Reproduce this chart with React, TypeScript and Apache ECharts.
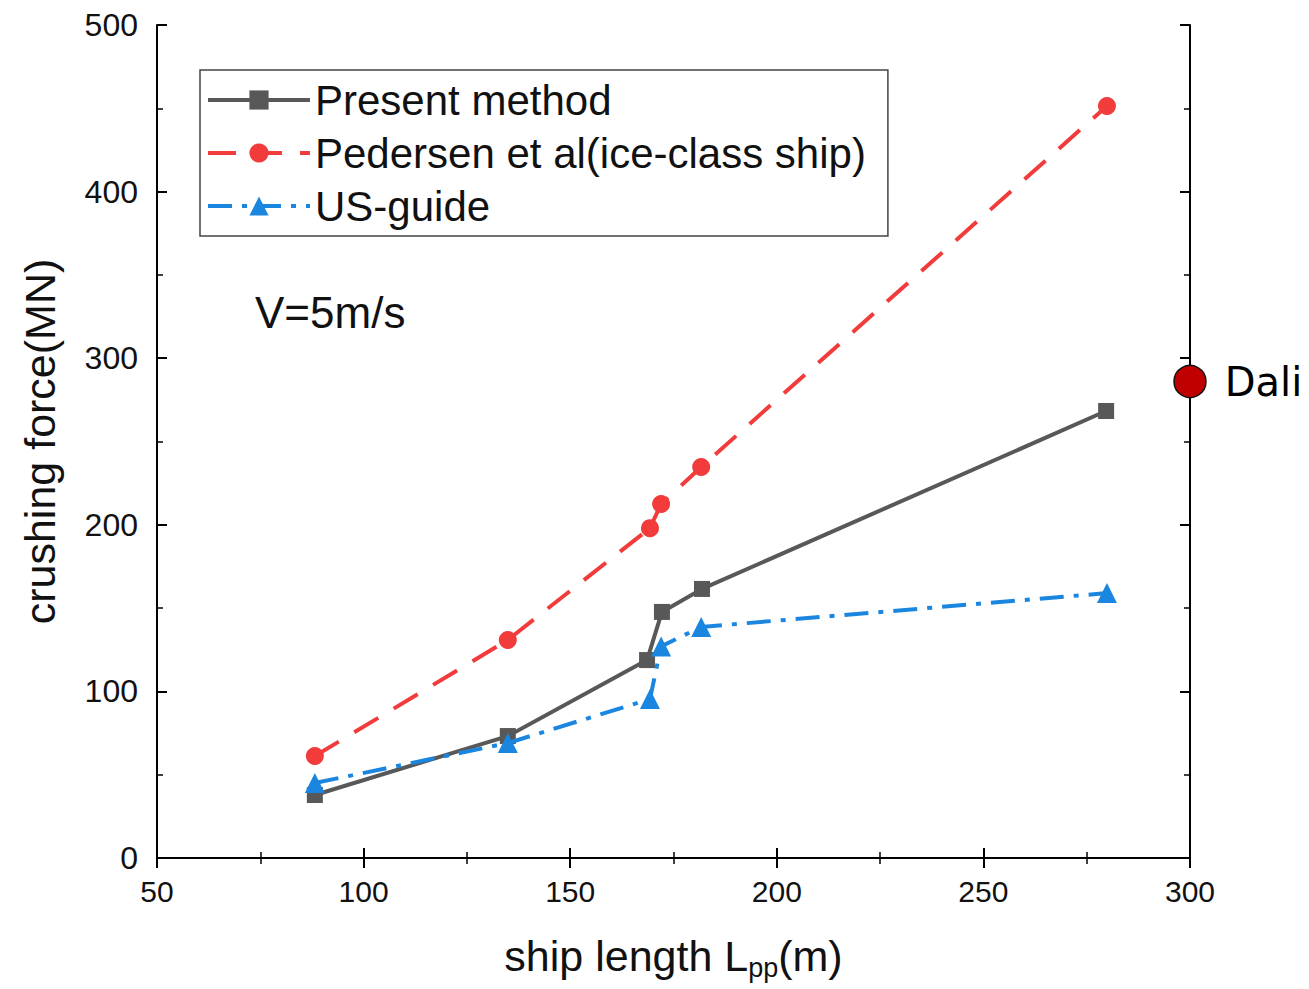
import React, { useEffect, useRef } from "react";
import * as echarts from "echarts";

const shipLength = [88.2, 134.9, 168.6, 172.2, 181.9, 279.7];
const presentMethod = [37.8, 73.2, 118.8, 147.7, 161.5, 268.3];
const pedersenX = [88.2, 134.9, 169.3, 172.0, 181.7, 279.9];
const pedersen = [61.2, 130.9, 198.0, 212.5, 234.7, 451.4];
const usGuideX = [88.2, 134.9, 169.3, 172.0, 181.7, 279.9];
const usGuide = [45.0, 69.0, 95.4, 127.0, 138.7, 159.0];
const daliPoint = [300, 286];
const seriesNames = ["Present method", "Pedersen et al(ice-class ship)", "US-guide"];

const FONT = "'Liberation Sans', Arial, sans-serif";

export default function App() {
  const ref = useRef<HTMLDivElement>(null);
  useEffect(() => {
    if (!ref.current) return;
    const chart = echarts.init(ref.current, undefined, { renderer: "svg" });
    const tickCommon = {
      axisLine: { show: true, lineStyle: { color: "#000", width: 2 } },
      axisTick: { show: true, inside: true, length: 10, lineStyle: { color: "#000", width: 2 } },
      minorTick: { show: true, splitNumber: 2, length: 6, lineStyle: { color: "#000", width: 1.5 } },
      splitLine: { show: false },
    };
    chart.setOption({
      animation: false,
      backgroundColor: "#fff",
      grid: { left: 157, right: 119, top: 25, bottom: 131 },
      xAxis: [
        {
          type: "value",
          min: 50,
          max: 300,
          interval: 50,
          position: "bottom",
          ...tickCommon,
          axisLabel: { margin: 18, fontSize: 30, color: "#111", fontFamily: FONT },
          name: "ship length L{sub|pp}(m)",
          nameLocation: "middle",
          nameGap: 72,
          nameTextStyle: {
            fontSize: 43,
            color: "#111",
            fontFamily: FONT,
            rich: {
              sub: { fontSize: 27, color: "#111", fontFamily: FONT, verticalAlign: "bottom", padding: [24, 0, 0, 0] },
            },
          },
        },
        {
          type: "value",
          min: 50,
          max: 300,
          interval: 50,
          position: "top",
          ...tickCommon,
          axisLabel: { show: false },
        },
      ],
      yAxis: [
        {
          type: "value",
          min: 0,
          max: 500,
          interval: 100,
          position: "left",
          ...tickCommon,
          axisLabel: { margin: 19, fontSize: 32, color: "#111", fontFamily: FONT },
          name: "crushing force(MN)",
          nameLocation: "middle",
          nameRotate: 90,
          nameGap: 96,
          nameTextStyle: { fontSize: 43, color: "#111", fontFamily: FONT },
        },
        {
          type: "value",
          min: 0,
          max: 500,
          interval: 100,
          position: "right",
          ...tickCommon,
          axisLabel: { show: false },
        },
      ],
      legend: {
        data: seriesNames,
        orient: "vertical",
        left: 200,
        top: 70,
        padding: [8, 22, 8, 6],
        itemWidth: 102,
        itemHeight: 24,
        itemGap: 9,
        borderColor: "#444",
        borderWidth: 1.5,
        backgroundColor: "#fff",
        lineStyle: { width: 4 },
        textStyle: { fontSize: 42, lineHeight: 44, color: "#111", fontFamily: FONT },
      },
      graphic: [
        {
          type: "text",
          left: 255,
          top: 290,
          style: { text: "V=5m/s", fontSize: 44, fill: "#111", fontFamily: FONT },
        },
      ],
      series: [
        {
          name: seriesNames[0],
          type: "line",
          data: shipLength.map((x, i) => [x, presentMethod[i]]),
          symbol: "rect",
          symbolSize: 16,
          lineStyle: { color: "#585858", width: 4 },
          itemStyle: { color: "#585858" },
          z: 3,
        },
        {
          name: seriesNames[1],
          type: "line",
          data: pedersenX.map((x, i) => [x, pedersen[i]]),
          symbol: "circle",
          symbolSize: 18,
          lineStyle: { color: "#f23c3c", width: 4, type: [28, 18] },
          itemStyle: { color: "#f23c3c" },
          z: 2,
        },
        {
          name: seriesNames[2],
          type: "line",
          data: usGuideX.map((x, i) => [x, usGuide[i]]),
          symbol: "triangle",
          symbolSize: 20,
          lineStyle: { color: "#1a86e0", width: 4, type: [24, 10, 5, 10] },
          itemStyle: { color: "#1a86e0" },
          z: 4,
        },
        {
          name: "Dali",
          type: "scatter",
          data: [daliPoint],
          symbol: "circle",
          symbolSize: 32,
          clip: false,
          itemStyle: { color: "#c00000", opacity: 1, borderColor: "#111", borderWidth: 1.5 },
          label: {
            show: true,
            position: "right",
            distance: 18,
            formatter: "Dali",
            fontSize: 40,
            color: "#000",
            fontFamily: "'DejaVu Sans', Verdana, sans-serif",
          },
          z: 10,
        },
      ],
    });
    return () => chart.dispose();
  }, []);
  return (
    <div
      ref={ref}
      style={{ position: "fixed", left: 0, top: 0, width: 1309, height: 989 }}
    />
  );
}
